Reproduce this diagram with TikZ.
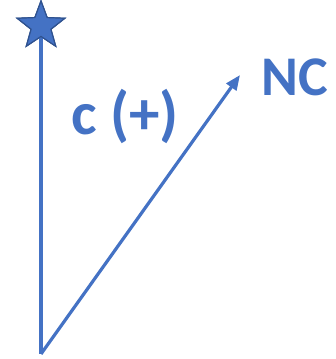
\documentclass[tikz,border=0pt]{standalone}
\usepackage{fontspec}
\setmainfont{Carlito}
\usetikzlibrary{arrows.meta,shapes.geometric}
\definecolor{vblue}{HTML}{4472C4}
\definecolor{vdark}{HTML}{2F528F}
\tikzset{
  vec/.style={draw=vblue, line width=3.2pt},
  lbl/.style={text=vblue, font=\bfseries, inner sep=0pt, anchor=base},
  starmark/.style={star, star points=5, star point ratio=2.4, minimum size=50pt, inner sep=0pt, fill=vblue, draw=vdark, line width=1.2pt}
}
\begin{document}
\begin{tikzpicture}[x=1pt,y=1pt]
\useasboundingbox (0,0) rectangle (336,359);
\coordinate (O) at (41,5);
\node[starmark] (S) at (41,333) {};
\draw[vec] (O) -- (S.center);
\node[starmark] at (S.center) {};
\coordinate (T) at (240,284);
\draw[vec, -{Triangle[length=15pt,width=12pt]}] (O) -- (T);
\node[lbl, font=\fontsize{56}{64}\selectfont\bfseries] (NC) at (295,263) {NC};
\node[lbl, font=\fontsize{61}{70}\selectfont\bfseries, anchor=base west] (C) at (71,224) {c (+)};
\end{tikzpicture}
\end{document}
